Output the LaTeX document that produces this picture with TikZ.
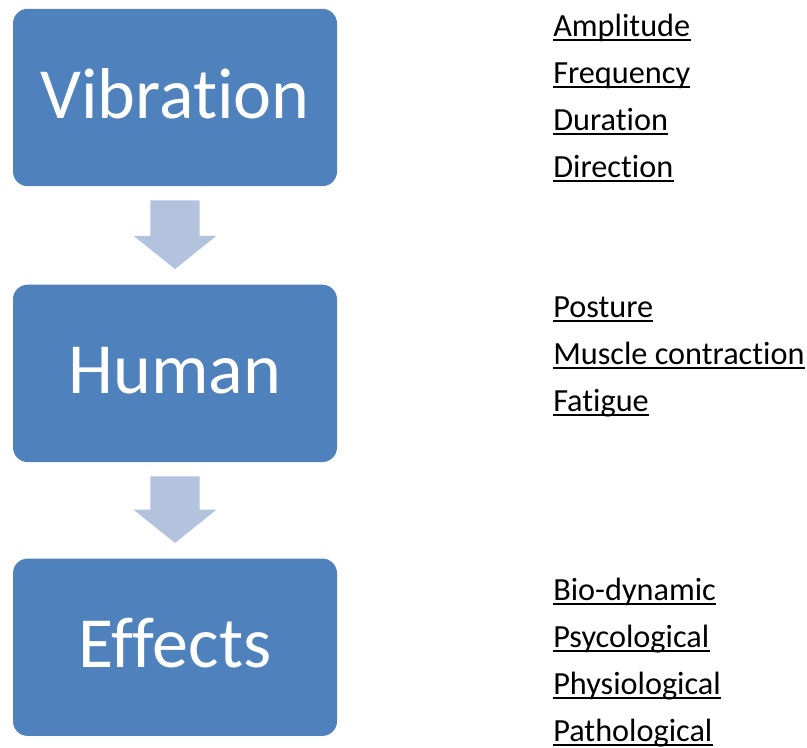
\documentclass[tikz,border=0pt]{standalone}
\usepackage{fontspec}
\setmainfont{Carlito}[Ligatures=NoCommon]
\usetikzlibrary{positioning}

\definecolor{boxblue}{HTML}{4F81BD}
\definecolor{arrowblue}{HTML}{B3C3DE}

\tikzset{
  stage/.style={fill=boxblue, rounded corners=11pt, minimum width=243pt,
    minimum height=133pt, inner sep=0pt, text=white,
    font=\fontsize{54}{60}\selectfont, text height=30.75pt, text depth=0pt},
  item/.style={anchor=base west, inner sep=0pt, font=\fontsize{24.2}{28}\selectfont},
  uline/.style={line width=1.5pt},
  flow/.style={fill=arrowblue}
}

\begin{document}
\begin{tikzpicture}[x=0.75pt, y=-0.75pt]
  \useasboundingbox (0,0) rectangle (807,747);

  % the three stages
  \node[stage] (vib) at (175,97.5) {Vibration};
  \node[stage, below=73.5pt of vib] (hum) {Human};
  \node[stage, below=72pt of hum] (eff) {Effects};

  % block arrows between the stages
  \foreach \a/\b in {vib/hum, hum/eff} {
    \fill[flow] ([xshift=-18.4pt, yshift=-10.5pt]\a.south)
      -- ([xshift=18.4pt, yshift=-10.5pt]\a.south)
      -- ([xshift=18.4pt, yshift=36.5pt]\b.north)
      -- ([xshift=31.1pt, yshift=36.5pt]\b.north)
      -- ([yshift=11.5pt]\b.north)
      -- ([xshift=-31.1pt, yshift=36.5pt]\b.north)
      -- ([xshift=-18.4pt, yshift=36.5pt]\b.north) -- cycle;
  }

  % factor lists, underlined
  \foreach \t [count=\i] in {Amplitude, Frequency, Duration, Direction} {
    \node[item] (v\i) at (553,{36+47*(\i-1)}) {\t};
    \draw[uline] ([yshift=-3.2pt]v\i.base west) -- ([yshift=-3.2pt]v\i.base east);
  }
  \foreach \t [count=\i] in {Posture, Muscle contraction, Fatigue} {
    \node[item] (h\i) at (553,{317+47*(\i-1)}) {\t};
    \draw[uline] ([yshift=-3.2pt]h\i.base west) -- ([yshift=-3.2pt]h\i.base east);
  }
  \foreach \t [count=\i] in {Bio-dynamic, Psycological, Physiological, Pathological} {
    \node[item] (e\i) at (553,{600+47*(\i-1)}) {\t};
    \draw[uline] ([yshift=-3.2pt]e\i.base west) -- ([yshift=-3.2pt]e\i.base east);
  }
\end{tikzpicture}
\end{document}
